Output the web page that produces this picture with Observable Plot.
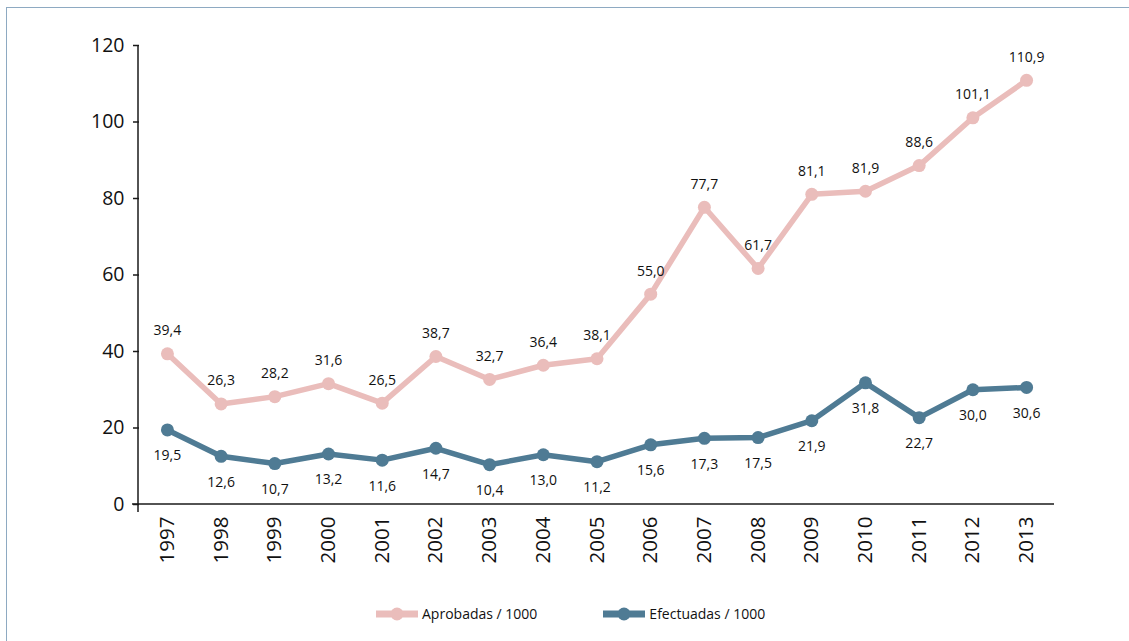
<!DOCTYPE html>
<html>
<head>
<meta charset="utf-8">
<script src="https://cdn.jsdelivr.net/npm/d3@7"></script>
<script src="https://cdn.jsdelivr.net/npm/@observablehq/plot@0.6"></script>
<style>
  body { margin: 0; background: #fff; font-family: "Open Sans", sans-serif; }
  #wrap { position: relative; width: 1129px; height: 641px; overflow: hidden; }
  #border { position: absolute; left: 6px; top: 7px; width: 1200px; height: 700px;
            border-top: 1.5px solid #8eaac2; border-left: 1.5px solid #8eaac2; }
  #chart { position: absolute; left: 0; top: 0; }
  #legend { position: absolute; top: 604px; left: 376px; display: flex; align-items: center;
            font-family: "Open Sans", sans-serif; font-size: 14px; color: #111; }
  .item { display: flex; align-items: center; }
  .item svg { margin-right: 4px; }
</style>
</head>
<body>
<div id="wrap">
  <div id="border"></div>
  <div id="chart"></div>
  <div id="legend"></div>
</div>
<script>
const years = ["1997","1998","1999","2000","2001","2002","2003","2004","2005","2006","2007","2008","2009","2010","2011","2012","2013"];
const aprobadas = [39.4,26.3,28.2,31.6,26.5,38.7,32.7,36.4,38.1,55.0,77.7,61.7,81.1,81.9,88.6,101.1,110.9];
const efectuadas = [19.5,12.6,10.7,13.2,11.6,14.7,10.4,13.0,11.2,15.6,17.3,17.5,21.9,31.8,22.7,30.0,30.6];
const yTicks = [0,20,40,60,80,100,120];
const seriesNames = ["Aprobadas / 1000","Efectuadas / 1000"];
const seriesColors = ["#eabdbb","#4f7b94"];

const fmt = v => v.toFixed(1).replace(".", ",");
const dataA = years.map((y, i) => ({year: y, value: aprobadas[i], series: seriesNames[0]}));
const dataE = years.map((y, i) => ({year: y, value: efectuadas[i], series: seriesNames[1]}));
const all = dataA.concat(dataE);

const axisLines = (index, scales, values, dims) => {
  const g = d3.create("svg:g");
  const x0 = dims.marginLeft - 1, x1 = dims.width - dims.marginRight;
  const y0 = dims.marginTop, y1 = dims.height - dims.marginBottom;
  g.append("line").attr("x1", x0).attr("x2", x0).attr("y1", y0).attr("y2", y1 + 8)
    .attr("stroke", "#1a1a1a").attr("stroke-width", 1.5);
  g.append("line").attr("x1", x0 - 6).attr("x2", x1).attr("y1", y1).attr("y2", y1)
    .attr("stroke", "#1a1a1a").attr("stroke-width", 1.5);
  return g.node();
};

const chart = Plot.plot({
  width: 1129,
  height: 580,
  marginLeft: 139,
  marginRight: 75,
  marginTop: 45,
  marginBottom: 76,
  style: { fontFamily: "Open Sans", color: "#111", background: "transparent", overflow: "visible" },
  x: { type: "point", domain: years, padding: 0.52, round: false },
  y: { domain: [0, 120] },
  color: { domain: seriesNames, range: seriesColors },
  marks: [
    Plot.axisY({ ticks: yTicks, tickSize: 6, tickPadding: 9, fontSize: 19.5, label: null, stroke: "#1a1a1a", strokeWidth: 1.5 }),
    Plot.axisX({ tickRotate: -90, tickSize: 0, tickPadding: 12, fontSize: 20.5, fontFamily: "Liberation Sans Narrow, Open Sans", label: null }),
    axisLines,
    Plot.line(all, { x: "year", y: "value", z: "series", stroke: "series", strokeWidth: 5.5 }),
    Plot.dot(all, { x: "year", y: "value", fill: "series", r: 6.5 }),
    Plot.text(dataA, { x: "year", y: "value", text: d => fmt(d.value), dy: -23, fontSize: 14, fill: "#111" }),
    Plot.text(dataE, { x: "year", y: "value", text: d => fmt(d.value), dy: 26, fontSize: 14, fill: "#111" })
  ]
});
document.getElementById("chart").appendChild(chart);

// legend
const legend = document.getElementById("legend");
seriesNames.forEach((name, i) => {
  const item = document.createElement("div");
  item.className = "item";
  if (i > 0) item.style.marginLeft = "66px";
  item.innerHTML = `<svg width="42" height="16"><line x1="0" x2="42" y1="8" y2="8" stroke="${seriesColors[i]}" stroke-width="7"/><circle cx="21" cy="8" r="6.5" fill="${seriesColors[i]}"/></svg><span>${name}</span>`;
  legend.appendChild(item);
});
</script>
</body>
</html>
